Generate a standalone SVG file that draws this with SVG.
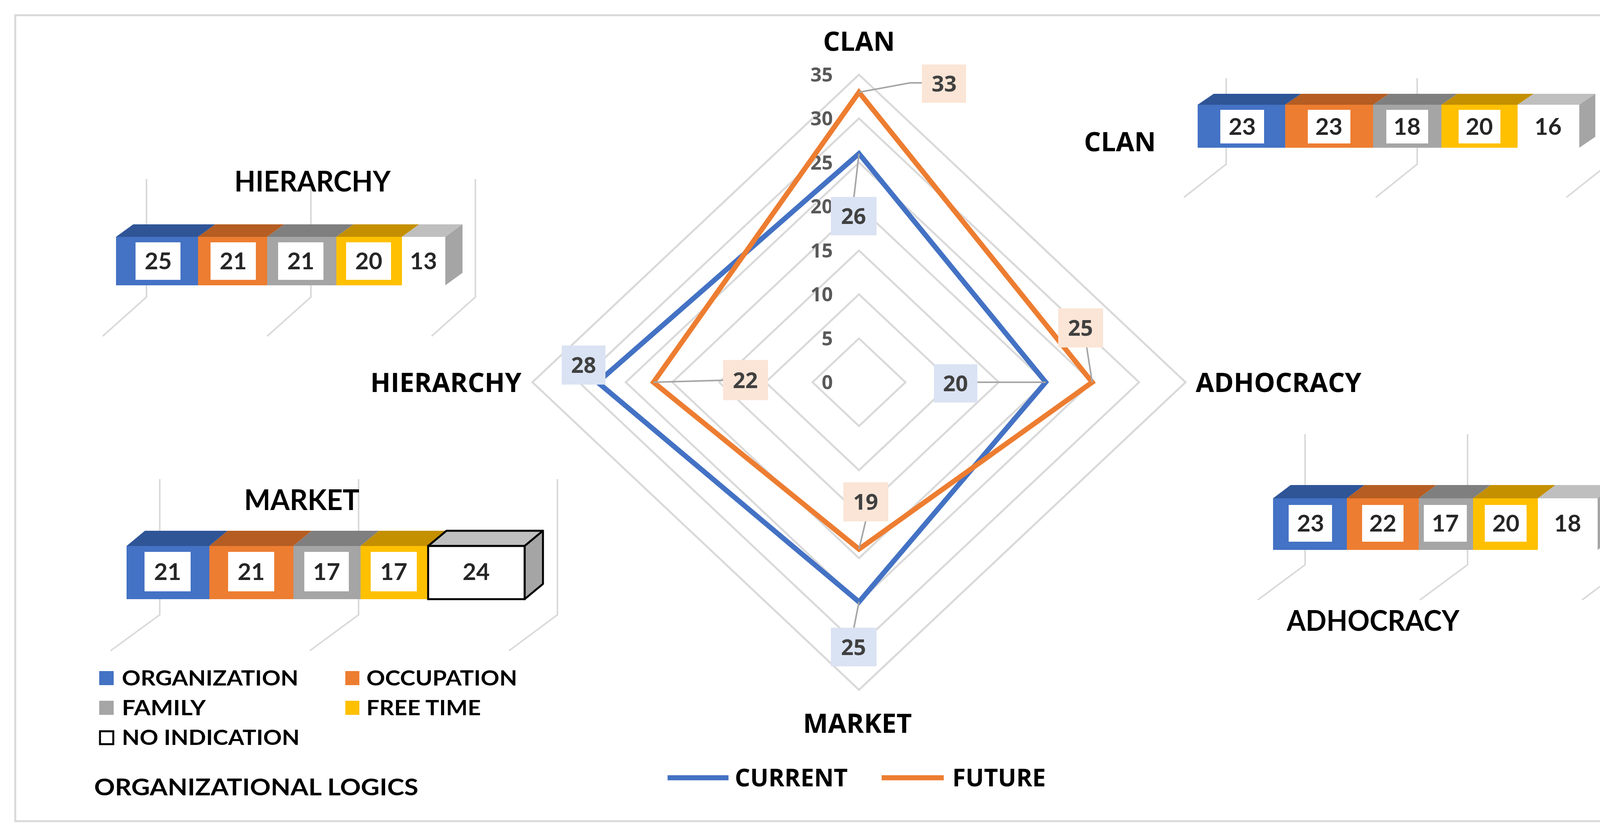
<svg xmlns="http://www.w3.org/2000/svg" width="4364" height="2139" viewBox="0 0 4364 2139">
<style>
.ring{fill:none;stroke:#d9d9d9;stroke-width:5}
.grid{fill:none;stroke:#d9d9d9;stroke-width:4}
.tick{font-family:"Open Sans","DejaVu Sans",sans-serif;font-weight:bold;font-size:50px;fill:#595959;text-anchor:end}
.axl{font-family:"Open Sans","DejaVu Sans",sans-serif;font-weight:bold;font-size:68px;fill:#000}
.dl{font-family:"Open Sans","DejaVu Sans",sans-serif;font-weight:bold;font-size:56px;fill:#404040;text-anchor:middle}
.lead{fill:none;stroke:#a6a6a6;stroke-width:4}
.num{font-family:Lato,"Liberation Sans",sans-serif;font-weight:bold;font-size:60px;fill:#262626;text-anchor:middle}
.btl{font-family:Lato,"Liberation Sans",sans-serif;font-weight:bold;font-size:72px;fill:#000}
.leg{font-family:Lato,"Liberation Sans",sans-serif;font-weight:bold;font-size:54px;fill:#000}
.inner{fill:#fff}
</style>
<rect x="0" y="0" width="4364" height="2139" fill="#fff"/>
<rect x="39" y="39" width="4283" height="2062" fill="none" stroke="#d9d9d9" stroke-width="5"/>

<g id="radar-grid">
<polygon class="ring" points="2199,866 2318,978 2199,1090 2080,978"/>
<polygon class="ring" points="2199,753 2438,978 2199,1203 1960,978"/>
<polygon class="ring" points="2199,641 2557,978 2199,1315 1841,978"/>
<polygon class="ring" points="2199,528 2677,978 2199,1428 1721,978"/>
<polygon class="ring" points="2199,416 2796,978 2199,1540 1602,978"/>
<polygon class="ring" points="2199,303 2916,978 2199,1653 1482,978"/>
<polygon class="ring" points="2199,191 3035,978 2199,1765 1363,978"/>
<text class="tick" x="2132" y="996">0</text>
<text class="tick" x="2132" y="884">5</text>
<text class="tick" x="2132" y="771">10</text>
<text class="tick" x="2132" y="659">15</text>
<text class="tick" x="2132" y="546">20</text>
<text class="tick" x="2132" y="434">25</text>
<text class="tick" x="2132" y="321">30</text>
<text class="tick" x="2132" y="209">35</text>
</g>
<g id="axis-labels">
<text class="axl" x="2199" y="130" text-anchor="middle">CLAN</text>
<text class="axl" x="3061" y="1003">ADHOCRACY</text>
<text class="axl" x="2195" y="1875" text-anchor="middle">MARKET</text>
<text class="axl" x="1335" y="1003" text-anchor="end">HIERARCHY</text>
</g>
<g id="series">
<polygon points="2199,393 2677,978 2199,1540 1530,978" fill="none" stroke="#4472c4" stroke-width="13"/>
<polygon points="2199,236 2796,978 2199,1405 1673,978" fill="none" stroke="#ed7d31" stroke-width="13"/>
</g>
<g id="connectors">
<polyline class="lead" points="2199,236 2330,212 2360,212"/>
<polyline class="lead" points="2199,393 2186,505"/>
<polyline class="lead" points="2782,889 2796,978"/>
<polyline class="lead" points="2502,978 2677,978"/>
<polyline class="lead" points="1851,973 1673,978"/>
<polyline class="lead" points="2216,1334 2199,1405"/>
<polyline class="lead" points="2186,1606 2199,1540"/>
</g>
<g id="data-labels">
<rect x="2360" y="165" width="113" height="98" fill="#fbe5d6"/><text class="dl" x="2417" y="234">33</text>
<rect x="2127" y="504" width="117" height="98" fill="#dae3f3"/><text class="dl" x="2185" y="573">26</text>
<rect x="2709" y="789" width="115" height="100" fill="#fbe5d6"/><text class="dl" x="2766" y="859">25</text>
<rect x="2391" y="932" width="111" height="98" fill="#dae3f3"/><text class="dl" x="2446" y="1001">20</text>
<rect x="1438" y="884" width="112" height="100" fill="#dae3f3"/><text class="dl" x="1494" y="954">28</text>
<rect x="1851" y="921" width="115" height="103" fill="#fbe5d6"/><text class="dl" x="1908" y="993">22</text>
<rect x="2159" y="1234" width="115" height="100" fill="#fbe5d6"/><text class="dl" x="2216" y="1304">19</text>
<rect x="2127" y="1606" width="117" height="99" fill="#dae3f3"/><text class="dl" x="2185" y="1676">25</text>
</g>
<g id="radar-legend">
<line x1="1709" y1="1990" x2="1865" y2="1990" stroke="#4472c4" stroke-width="13"/>
<text class="axl" x="1881" y="2012" style="font-size:62px">CURRENT</text>
<line x1="2257" y1="1990" x2="2416" y2="1990" stroke="#ed7d31" stroke-width="13"/>
<text class="axl" x="2438" y="2012" style="font-size:62px">FUTURE</text>
</g>

<g id="hierarchy-bar">
<polyline class="grid" points="375,458 375,760 263,860"/>
<polyline class="grid" points="796,458 796,760 684,860"/>
<polyline class="grid" points="1217,458 1217,760 1105,860"/>
<text class="btl" x="600" y="490" textLength="400" lengthAdjust="spacingAndGlyphs">HIERARCHY</text>
<polygon points="297,606 341,574 551,574 507,606" fill="#2f5597"/>
<polygon points="507,606 551,574 728,574 684,606" fill="#b55d22"/>
<polygon points="684,606 728,574 905,574 861,606" fill="#7f7f7f"/>
<polygon points="861,606 905,574 1073,574 1029,606" fill="#c49000"/>
<polygon points="1029,606 1073,574 1184,574 1140,606" fill="#bfbfbf"/>
<polygon points="1140,606 1184,574 1184,698 1140,730" fill="#a5a5a5"/>
<rect x="297" y="606" width="210" height="124" fill="#4472c4"/>
<rect x="507" y="606" width="177" height="124" fill="#ed7d31"/>
<rect x="684" y="606" width="177" height="124" fill="#a5a5a5"/>
<rect x="861" y="606" width="168" height="124" fill="#ffc000"/>
<rect class="inner" x="347" y="620" width="115" height="96"/>
<rect class="inner" x="539" y="620" width="116" height="96"/>
<rect class="inner" x="712" y="620" width="116" height="96"/>
<rect class="inner" x="886" y="620" width="115" height="96"/>
<text class="num" x="405" y="689">25</text>
<text class="num" x="597" y="689">21</text>
<text class="num" x="770" y="689">21</text>
<text class="num" x="944" y="689">20</text>
<text class="num" x="1084" y="689">13</text>
</g>

<g id="clan-bar">
<polyline class="grid" points="3139,200 3139,420 3031,505"/>
<polyline class="grid" points="3628,200 3628,420 3522,505"/>
<polyline class="grid" points="4117,200 4117,420 4010,505"/>
<text class="axl" x="2775" y="387">CLAN</text>
<polygon points="3066,268 3107,240 3331,240 3290,268" fill="#2f5597"/>
<polygon points="3290,268 3331,240 3556,240 3515,268" fill="#b55d22"/>
<polygon points="3515,268 3556,240 3731,240 3690,268" fill="#7f7f7f"/>
<polygon points="3690,268 3731,240 3926,240 3885,268" fill="#c49000"/>
<polygon points="3885,268 3926,240 4084,240 4043,268" fill="#bfbfbf"/>
<polygon points="4043,268 4084,240 4084,350 4043,378" fill="#a5a5a5"/>
<rect x="3066" y="268" width="224" height="110" fill="#4472c4"/>
<rect x="3290" y="268" width="225" height="110" fill="#ed7d31"/>
<rect x="3515" y="268" width="175" height="110" fill="#a5a5a5"/>
<rect x="3690" y="268" width="195" height="110" fill="#ffc000"/>
<rect class="inner" x="3124" y="281" width="112" height="86"/>
<rect class="inner" x="3348" y="281" width="109" height="86"/>
<rect class="inner" x="3549" y="281" width="107" height="86"/>
<rect class="inner" x="3734" y="281" width="107" height="86"/>
<text class="num" x="3180" y="345">23</text>
<text class="num" x="3402" y="345">23</text>
<text class="num" x="3602" y="345">18</text>
<text class="num" x="3787" y="345">20</text>
<text class="num" x="3963" y="345">16</text>
</g>

<g id="adhocracy-bar">
<polyline class="grid" points="3341,1111 3341,1445 3220,1535"/>
<polyline class="grid" points="3757,1111 3757,1445 3635,1535"/>
<polyline class="grid" points="4171,1111 4171,1445 4050,1535"/>
<text class="btl" x="3294" y="1614" textLength="442" lengthAdjust="spacingAndGlyphs">ADHOCRACY</text>
<polygon points="3259,1275 3304,1241 3493,1241 3448,1275" fill="#2f5597"/>
<polygon points="3448,1275 3493,1241 3677,1241 3632,1275" fill="#b55d22"/>
<polygon points="3632,1275 3677,1241 3816,1241 3771,1275" fill="#7f7f7f"/>
<polygon points="3771,1275 3816,1241 3982,1241 3937,1275" fill="#c49000"/>
<polygon points="3937,1275 3982,1241 4135,1241 4090,1275" fill="#bfbfbf"/>
<polygon points="4090,1275 4135,1241 4135,1373 4090,1407" fill="#a5a5a5"/>
<rect x="3259" y="1275" width="189" height="132" fill="#4472c4"/>
<rect x="3448" y="1275" width="184" height="132" fill="#ed7d31"/>
<rect x="3632" y="1275" width="139" height="132" fill="#a5a5a5"/>
<rect x="3771" y="1275" width="166" height="132" fill="#ffc000"/>
<rect class="inner" x="3299" y="1292" width="111" height="94"/>
<rect class="inner" x="3487" y="1292" width="106" height="94"/>
<rect class="inner" x="3645" y="1292" width="110" height="94"/>
<rect class="inner" x="3801" y="1292" width="107" height="94"/>
<text class="num" x="3355" y="1360">23</text>
<text class="num" x="3540" y="1360">22</text>
<text class="num" x="3700" y="1360">17</text>
<text class="num" x="3855" y="1360">20</text>
<text class="num" x="4013" y="1360">18</text>
</g>

<g id="market-bar">
<polyline class="grid" points="409,1226 409,1573 283,1665"/>
<polyline class="grid" points="918,1226 918,1573 793,1665"/>
<polyline class="grid" points="1427,1226 1427,1573 1303,1665"/>
<text class="btl" x="625" y="1305" textLength="295" lengthAdjust="spacingAndGlyphs">MARKET</text>
<polygon points="324,1397 371,1358 583,1358 536,1397" fill="#2f5597"/>
<polygon points="536,1397 583,1358 798,1358 751,1397" fill="#b55d22"/>
<polygon points="751,1397 798,1358 970,1358 923,1397" fill="#7f7f7f"/>
<polygon points="923,1397 970,1358 1143,1358 1096,1397" fill="#c49000"/>
<polygon points="1096,1397 1143,1358 1390,1358 1343,1397" fill="#bfbfbf" stroke="#000" stroke-width="5" stroke-linejoin="round"/>
<polygon points="1343,1397 1390,1358 1390,1494 1343,1533" fill="#a5a5a5" stroke="#000" stroke-width="5" stroke-linejoin="round"/>
<rect x="324" y="1397" width="212" height="136" fill="#4472c4"/>
<rect x="536" y="1397" width="215" height="136" fill="#ed7d31"/>
<rect x="751" y="1397" width="172" height="136" fill="#a5a5a5"/>
<rect x="923" y="1397" width="173" height="136" fill="#ffc000"/>
<rect x="1096" y="1397" width="247" height="136" fill="#fff" stroke="#000" stroke-width="5"/>
<rect class="inner" x="370" y="1412" width="118" height="101"/>
<rect class="inner" x="584" y="1412" width="118" height="101"/>
<rect class="inner" x="779" y="1412" width="114" height="101"/>
<rect class="inner" x="949" y="1412" width="118" height="101"/>
<text class="num" x="429" y="1484">21</text>
<text class="num" x="643" y="1484">21</text>
<text class="num" x="836" y="1484">17</text>
<text class="num" x="1008" y="1484">17</text>
<text class="num" x="1219" y="1484">24</text>
</g>

<g id="bar-legend">
<rect x="254" y="1717" width="37" height="36" fill="#4472c4"/>
<text class="leg" x="312" y="1754" textLength="452" lengthAdjust="spacingAndGlyphs">ORGANIZATION</text>
<rect x="884" y="1717" width="36" height="36" fill="#ed7d31"/>
<text class="leg" x="938" y="1754" textLength="386" lengthAdjust="spacingAndGlyphs">OCCUPATION</text>
<rect x="254" y="1793" width="37" height="36" fill="#a5a5a5"/>
<text class="leg" x="312" y="1830" textLength="215" lengthAdjust="spacingAndGlyphs">FAMILY</text>
<rect x="884" y="1793" width="36" height="36" fill="#ffc000"/>
<text class="leg" x="938" y="1830" textLength="293" lengthAdjust="spacingAndGlyphs">FREE TIME</text>
<rect x="256" y="1871" width="34" height="33" fill="#fff" stroke="#000" stroke-width="5"/>
<text class="leg" x="312" y="1906" textLength="455" lengthAdjust="spacingAndGlyphs">NO INDICATION</text>
<text class="leg" x="241" y="2035" style="font-size:60px" textLength="830" lengthAdjust="spacingAndGlyphs">ORGANIZATIONAL LOGICS</text>
</g>
</svg>
